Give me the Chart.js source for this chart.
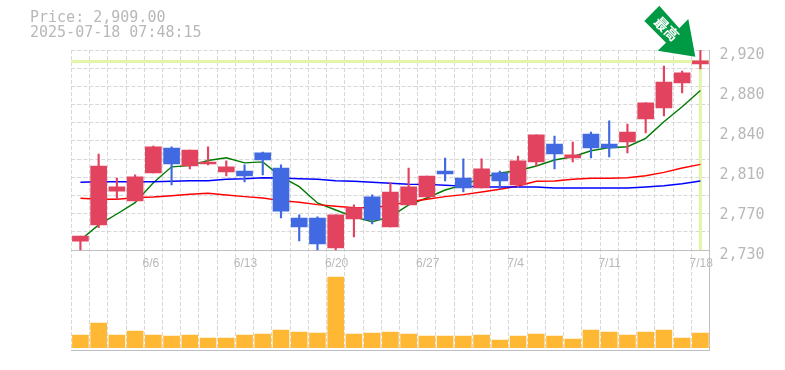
<!DOCTYPE html>
<html><head><meta charset="utf-8">
<style>html,body{margin:0;padding:0;background:#fff}canvas{display:block}</style>
<script src="https://cdn.jsdelivr.net/npm/chart.js@4/dist/chart.umd.min.js"></script>
</head><body><canvas id="c" width="785" height="370"></canvas>
<script>
const categories = ['6/2','6/3','6/4','6/5','6/6','6/9','6/10','6/11','6/12','6/13','6/16','6/17','6/18','6/19','6/20','6/23','6/24','6/25','6/26','6/27','6/30','7/1','7/2','7/3','7/4','7/7','7/8','7/9','7/10','7/11','7/14','7/15','7/16','7/17','7/18'];
const shownDates = ['6/6','6/13','6/20','6/27','7/4','7/11','7/18'];
const opens  = [2738.5,2753.8,2786,2776.6,2803.2,2826.9,2809.8,2811.7,2804.1,2805,2822.2,2807.9,2760.4,2760.4,2731.9,2759.5,2780.4,2751.9,2772.8,2780.4,2805,2798.4,2788.9,2803.2,2791.8,2813.6,2830.7,2817.4,2840.2,2830.7,2832.6,2854.5,2864.9,2888.7,2906.7];
const closes = [2743.3,2809.8,2789.9,2799.4,2827.9,2811.7,2825,2813.6,2808.9,2800.3,2815.5,2767,2751.9,2735.7,2763.3,2770.2,2758.5,2785.1,2789.9,2800.3,2802.2,2788.9,2807,2795.6,2814.6,2839.3,2821.2,2820.3,2826.9,2826.9,2842.1,2869.7,2889.6,2898.2,2909.6];
const highs  = [2743.3,2821.2,2798.4,2801.3,2828.8,2827.9,2825,2827.9,2814.6,2810.8,2823.1,2810.8,2763.3,2761.4,2763.3,2772.8,2782.3,2793.7,2807.9,2800.3,2817.4,2816.5,2816.5,2805,2819.3,2839.3,2838.3,2832.6,2842.1,2852.6,2849.7,2869.7,2904.8,2900,2920];
const lows   = [2730,2751.2,2778.2,2776.6,2803.2,2791.8,2807,2810.8,2800.3,2794.6,2801.3,2760.4,2738.6,2730,2730,2742.4,2754.7,2751.9,2772.8,2780.4,2795.6,2785.1,2788.9,2788,2789.9,2809.8,2807,2813.6,2817.4,2818.4,2822.2,2841.2,2857.3,2879.2,2902];
const maShort = [2739.5,2753.8,2764.2,2775,2793.9,2809,2810.2,2815,2817.6,2812.8,2813.7,2799.7,2790.2,2774.7,2768,2761.4,2756.9,2761.4,2772.8,2779.4,2787,2791.8,2798.4,2803.2,2805.3,2809.8,2815.5,2818.6,2824.3,2827.2,2828.1,2836.1,2851.9,2866.1,2881.5];
const maMid = [2779.1,2778.2,2778.2,2779.7,2780.4,2781.6,2782.9,2783.9,2782.3,2780.7,2779.4,2776.9,2775.4,2773.1,2771.6,2770.2,2770.4,2772.3,2775.9,2778.2,2780.7,2782.6,2785.1,2787.7,2790.8,2795.3,2795.6,2797.2,2798.1,2798.1,2798.7,2800.6,2803.8,2807.9,2811.4];
const maLong = [2794.3,2794.9,2794.9,2794.9,2794.9,2795.3,2795.8,2795.8,2797.2,2797.7,2798.7,2798.4,2797.7,2797.2,2795.8,2795.3,2794.3,2793.4,2792.4,2792.3,2791.5,2790.7,2789.9,2789.9,2789.9,2789.9,2788.9,2788.9,2788.9,2788.9,2788.9,2789.9,2791.1,2793,2795.6];
const volumes = [127,247,127,167,127,117,127,97,97,127,137,177,157,147,707,137,147,157,137,117,117,117,127,77,117,137,117,87,177,157,127,157,177,97,147];
const priceTicks = [2730,2768,2806,2844,2882,2920];
const priceTickLabels = ['2,730','2,770','2,810','2,840','2,880','2,920'];
const gridPrices = [2730,2747.27,2764.55,2781.82,2799.09,2816.36,2833.64,2850.91,2868.18,2885.45,2902.73,2920];
const currentPrice = 2909;
const titleLines = ['Price: 2,909.00','2025-07-18 07:48:15'];
const badgeText = ['最','高'];

const UP='#e2435f', DOWN='#4169e1', GRID='#d8d8d8', AXIS='#bfbfbf', TXT='#b8b8b8', MONO='"DejaVu Sans Mono"';
const candleColors = opens.map((o,i)=> closes[i]>=o ? UP : DOWN);

const overlay = {
  id:'overlay',
  beforeDatasetsDraw(ch){
    const {ctx,scales:{x,y},chartArea:a}=ch;
    const py=y.getPixelForValue(currentPrice), px=x.getPixelForValue(categories.length-1);
    ctx.save();ctx.fillStyle='#e2f5a8';
    ctx.fillRect(a.left,py-1.5,a.right-a.left,3);
    ctx.fillRect(px-1.5,py,3,y.getPixelForValue(priceTicks[0])-py);
    ctx.restore();
  },
  afterDraw(ch){
    const {ctx}=ch;
    ctx.save();
    ctx.fillStyle=TXT;ctx.font='15px '+MONO;ctx.textBaseline='middle';ctx.textAlign='left';
    titleLines.forEach((t,i)=>ctx.fillText(t,30,18+15*i));
    const pts=[[659.3,5.7],[644.3,21],[666,42.7],[657.7,50.7],[695.3,56.7],[688.3,19],[679.3,28.3]];
    ctx.fillStyle='#009944';ctx.beginPath();
    pts.forEach((p,i)=>i?ctx.lineTo(p[0],p[1]):ctx.moveTo(p[0],p[1]));
    ctx.closePath();ctx.fill();
    ctx.fillStyle='#fff';ctx.font='bold 14px "Noto Sans CJK JP"';ctx.textAlign='center';
    [[661.7,24],[671.7,33.5]].forEach((p,i)=>{
      ctx.save();ctx.translate(p[0],p[1]);ctx.rotate(Math.PI/4);ctx.fillText(badgeText[i],0,0);ctx.restore();
    });
    ctx.restore();
  }
};

const fixWidth = w => s => { s.width = w; };
const line = (data,color)=>({type:'line',data,borderColor:color,borderWidth:1.4,pointRadius:0,tension:0,yAxisID:'y',order:5,clip:false});

new Chart(document.getElementById('c'),{
  data:{labels:categories,datasets:[
    line(maLong,'#0000ff'),
    line(maMid,'#ff0000'),
    line(maShort,'#007a00'),
    {type:'bar',data:lows.map((l,i)=>[l,highs[i]]),backgroundColor:candleColors,barThickness:1.5,grouped:false,yAxisID:'y',order:2},
    {type:'bar',data:opens.map((o,i)=>[o,closes[i]]),backgroundColor:candleColors,barThickness:16,grouped:false,yAxisID:'y',order:1},
    {type:'bar',data:volumes,backgroundColor:'#ffb833',barThickness:16,grouped:false,yAxisID:'yVol',order:3}
  ]},
  options:{
    responsive:false,animation:false,
    layout:{padding:{left:71.3,right:0,top:50,bottom:20}},
    plugins:{legend:{display:false},tooltip:{enabled:false},title:{display:false}},
    scales:{
      x:{type:'category',position:{y:priceTicks[0]},offset:true,
         grid:{offset:true,color:GRID,drawTicks:false,lineWidth:1},
         border:{dash:[4,2],color:AXIS,width:1},
         ticks:{autoSkip:false,maxRotation:0,minRotation:0,padding:6,align:'start',labelOffset:-10.8,color:TXT,
                font:{family:'"Liberation Sans"',size:12},
                callback(v){const l=this.getLabelForValue(v);return shownDates.includes(l)?l:'';}}},
      xBase:{type:'category',position:'bottom',offset:true,labels:categories,
         grid:{display:false,drawTicks:false},ticks:{display:false},border:{color:AXIS,width:1},afterFit(s){s.height=0;}},
      y:{type:'linear',position:'right',min:2635,max:2920,
         afterBuildTicks(s){s.ticks=priceTicks.map(value=>({value}));},
         afterFit:fixWidth(75.5),
         grid:{display:false,drawTicks:false},border:{color:AXIS,width:1},
         ticks:{autoSkip:false,padding:10,labelOffset:5,color:TXT,font:{family:MONO,size:15},
                callback(v,i){return priceTickLabels[i];}}},
      yGrid:{type:'linear',position:'right',min:2635,max:2920,
         afterBuildTicks(s){s.ticks=gridPrices.map(value=>({value}));},
         afterFit:fixWidth(0),
         grid:{color:GRID,drawTicks:false,lineWidth:1},border:{display:false,dash:[4,2]},
         ticks:{display:false}},
      yVol:{type:'linear',position:'right',min:-23,max:2977,
         afterFit:fixWidth(0),
         grid:{display:false,drawTicks:false},border:{display:false},ticks:{display:false}}
    }
  },
  plugins:[overlay]
});
</script></body></html>
